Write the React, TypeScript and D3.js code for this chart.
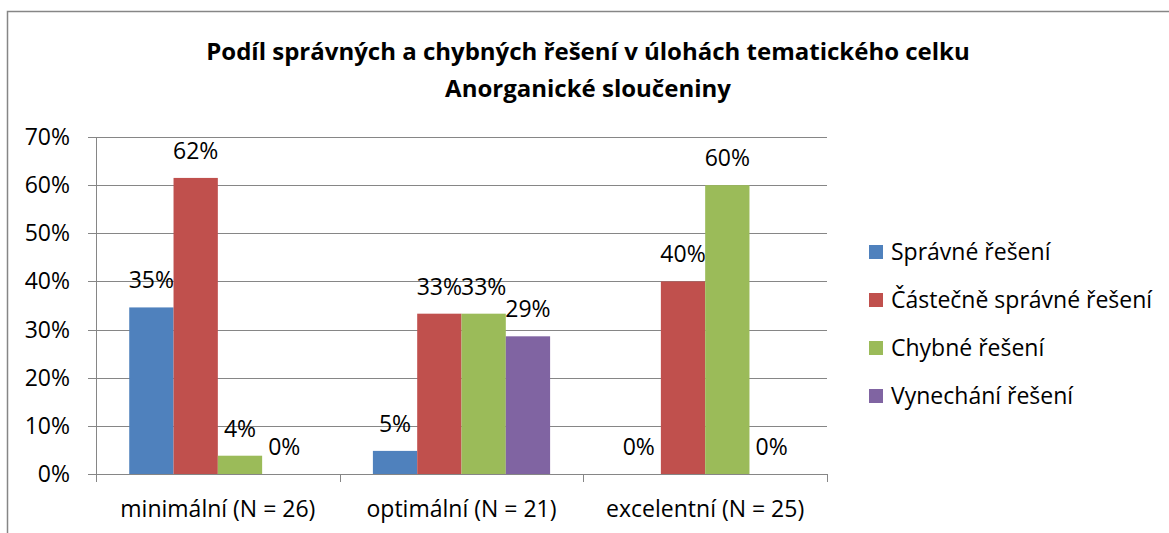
import { useEffect, useRef } from "react";
import * as d3 from "d3";

const categories = ["minimální (N = 26)", "optimální (N = 21)", "excelentní (N = 25)"];
const seriesNames = ["Správné řešení", "Částečně správné řešení", "Chybné řešení", "Vynechání řešení"];
const colors = ["#4F81BD", "#C0504D", "#9BBB59", "#8064A2"];
// share of answers per category, one array per series
const spravne = [0.346, 0.048, 0];
const castecne = [0.615, 0.333, 0.4];
const chybne = [0.038, 0.333, 0.6];
const vynechani = [0, 0.286, 0];
const yTicks = [0, 0.1, 0.2, 0.3, 0.4, 0.5, 0.6, 0.7];
const titleLines = ["Podíl správných a chybných řešení v úlohách tematického celku", "Anorganické sloučeniny"];

export default function App() {
  const ref = useRef<SVGSVGElement>(null);

  useEffect(() => {
    document.body.style.margin = "0";
    const svg = d3.select(ref.current);
    svg.selectAll("*").remove();
    const font = "'Open Sans', sans-serif";
    const fs = 23;
    const series = [spravne, castecne, chybne, vynechani];

    const margin = { top: 137, left: 96, right: 827, bottom: 474 };

    // chart border (runs off the page on right and bottom)
    svg.append("rect")
      .attr("x", 7.5).attr("y", 11.5)
      .attr("width", 1300).attr("height", 700)
      .attr("fill", "white").attr("stroke", "#868686").attr("stroke-width", 1.5);

    const x0 = d3.scaleBand().domain(categories).range([margin.left, margin.right]);
    const x1 = d3.scaleBand().domain(seriesNames).range([0, x0.bandwidth()]).paddingOuter(0.75);
    const y = d3.scaleLinear().domain([0, 0.7]).range([margin.bottom, margin.top]);

    // gridlines
    svg.append("g").selectAll("line").data(yTicks).join("line")
      .attr("x1", margin.left - 8).attr("x2", margin.right)
      .attr("y1", d => Math.round(y(d)) + 0.5).attr("y2", d => Math.round(y(d)) + 0.5)
      .attr("stroke", "#868686").attr("stroke-width", 1);

    svg.append("g").selectAll("text").data(yTicks).join("text")
      .attr("x", 70).attr("y", d => y(d) + 8)
      .attr("text-anchor", "end")
      .attr("font-family", font).attr("font-size", fs).attr("fill", "#000")
      .text(d => d3.format(".0%")(d));

    // y axis line
    svg.append("line")
      .attr("x1", margin.left + 0.5).attr("x2", margin.left + 0.5)
      .attr("y1", margin.top).attr("y2", margin.bottom + 8)
      .attr("stroke", "#868686");

    // category ticks
    const bounds = [...categories.map(c => x0(c) as number), margin.right];
    svg.append("g").selectAll("line").data(bounds).join("line")
      .attr("x1", d => Math.round(d) + 0.5).attr("x2", d => Math.round(d) + 0.5)
      .attr("y1", margin.bottom).attr("y2", margin.bottom + 8)
      .attr("stroke", "#868686");

    svg.append("g").selectAll("text").data(categories).join("text")
      .attr("x", d => (x0(d) as number) + x0.bandwidth() / 2)
      .attr("y", 517)
      .attr("text-anchor", "middle")
      .attr("font-family", font).attr("font-size", fs).attr("fill", "#000")
      .text(d => d);

    // bars
    series.forEach((vals, si) => {
      const g = svg.append("g");
      g.selectAll("rect").data(vals).join("rect")
        .attr("x", (d, i) => (x0(categories[i]) as number) + (x1(seriesNames[si]) as number))
        .attr("y", d => y(d))
        .attr("width", x1.bandwidth())
        .attr("height", d => y(0) - y(d))
        .attr("fill", colors[si]);
      g.selectAll("text").data(vals).join("text")
        .attr("x", (d, i) => (x0(categories[i]) as number) + (x1(seriesNames[si]) as number) + x1.bandwidth() / 2)
        .attr("y", d => y(d) - 19)
        .attr("text-anchor", "middle")
        .attr("font-family", font).attr("font-size", fs).attr("fill", "#000")
        .text(d => d3.format(".0%")(d));
    });

    // title
    svg.append("g").selectAll("text").data(titleLines).join("text")
      .attr("x", 588).attr("y", (d, i) => 60 + i * 37)
      .attr("text-anchor", "middle")
      .attr("font-family", font).attr("font-weight", "bold").attr("font-size", 24).attr("fill", "#000")
      .text(d => d);

    // legend
    const legend = svg.append("g").selectAll("g").data(seriesNames).join("g")
      .attr("transform", (d, i) => `translate(869, ${252 + i * 48})`);
    legend.append("rect").attr("x", 0).attr("y", -7).attr("width", 14).attr("height", 14)
      .attr("fill", (d, i) => colors[i]);
    legend.append("text").attr("x", 22).attr("y", 8)
      .attr("font-family", font).attr("font-size", fs).attr("fill", "#000")
      .text(d => d);
  }, []);

  return <svg ref={ref} width={1169} height={533} style={{ display: "block" }}></svg>;
}
